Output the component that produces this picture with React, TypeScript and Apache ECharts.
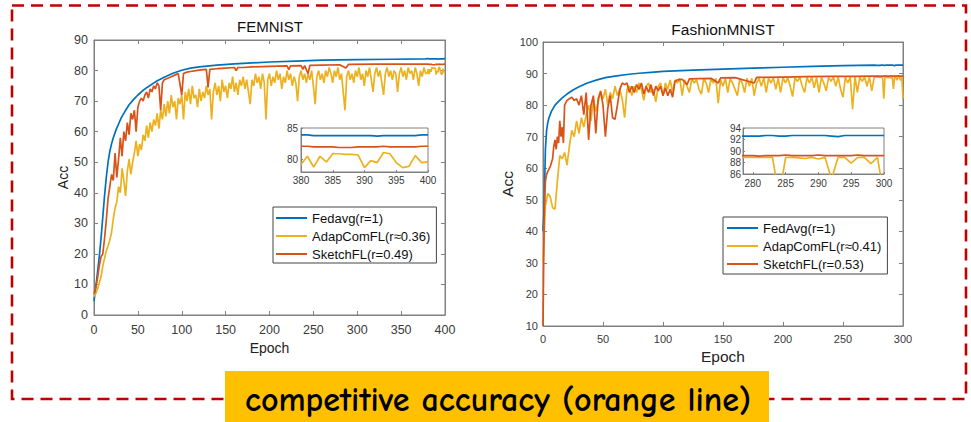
import React, { useEffect, useRef } from "react";
import * as echarts from "echarts";

// ---------------- FEMNIST (left) ----------------
const FEM_LABELS = { title: "FEMNIST", avg: "Fedavg(r=1)", adap: "AdapComFL(r≈0.36)", sketch: "SketchFL(r=0.49)" };

const femAvgEpochs = [0, 2, 4, 6, 8, 10, 12, 14, 16, 18, 20, 22, 25, 28, 31, 35, 40, 45, 50, 55, 60, 70, 80, 90, 100, 110, 120, 140, 160, 180, 200, 230, 260, 300, 340, 378];
const femAvgValues = [4.5, 9, 14, 19, 25, 32, 39, 45, 50, 53.5, 56, 58, 60.5, 62.5, 64.5, 66.5, 68.8, 70.5, 72, 73.3, 74.4, 76.3, 77.8, 79.1, 80.1, 80.8, 81.2, 81.8, 82.2, 82.5, 82.8, 83.1, 83.4, 83.6, 83.7, 83.8];

// AdapComFL, sampled every 2 epochs from 0 to 378
const femAdapValues = [
  6, 7, 8.5, 10.5, 12.5, 16, 18.5, 21, 22.5, 24.5,
  27, 31.5, 35, 37, 42, 40, 48, 44, 39, 47,
  51, 46, 50, 53, 57, 52, 56, 54, 59, 57,
  62, 58, 63, 60, 64, 62, 66, 61, 67, 64,
  69, 65, 70, 66, 72, 68, 70, 64, 71, 69,
  72, 64, 73, 70, 74, 69, 75, 71, 72, 68,
  74, 70, 73, 71, 75, 72, 74, 64, 73, 76,
  72, 75, 70, 77, 73, 75, 71, 76, 74, 78,
  73, 76, 72, 77, 75, 78, 74, 77, 73, 69,
  77, 75, 79, 76, 78, 74, 79, 76, 64, 77,
  79, 75, 78, 76, 80, 77, 79, 74, 78, 76,
  80, 77, 79, 75, 78, 76, 70, 78, 80, 77,
  79, 76, 79, 77, 80, 75, 69, 78, 80, 77,
  79, 76, 80, 78, 81, 79, 76, 80, 78, 81,
  77, 79, 73, 67, 78, 80, 77, 79, 76, 80,
  78, 81, 77, 79, 75, 80, 78, 81, 77, 73,
  79, 81, 78, 80, 76, 72, 79, 81, 78, 80,
  77, 80, 79, 73, 79, 81, 78, 80, 77, 81,
  79, 80, 77, 81, 79, 75, 80, 78, 81, 79,
];
const FEM_ADAP_STEP = 2;

const femSketchEpochs = [
  0, 2, 4, 6, 8, 10, 12, 14, 16, 18, 20, 22, 24, 26, 28, 30, 32, 34, 36, 38, 40,
  42, 44, 46, 48, 50, 52, 54, 56, 58, 60, 62, 64, 66, 68, 70, 72, 74, 76, 78, 80,
  84, 88, 92, 96, 100, 102, 106, 110, 116, 122, 128, 130, 132, 140, 150, 160, 162, 164, 170,
  180, 200, 220, 222, 224, 236, 238, 240, 244, 246, 260, 280, 287, 290, 320, 350, 378,
];
const femSketchValues = [
  7, 9, 12, 16, 19, 20, 25, 31, 38, 42, 46, 44, 53, 45, 51, 58, 52, 60, 57, 63, 59,
  66, 64, 67, 60, 68, 70, 71, 70, 72, 73, 71, 74, 73, 75, 74, 76, 75, 67, 76, 77,
  77.5, 78, 78.5, 79, 72, 79, 79.5, 79.7, 80, 80.2, 80.4, 74.5, 80.4, 80.6, 80.8, 81, 80, 81, 81,
  81.2, 81.4, 81.5, 80.3, 81.5, 81.6, 80.4, 81.6, 79, 81.7, 81.8, 81.9, 80.8, 82, 82.1, 82.1, 82.1,
];

// zoomed window 380..400 (every epoch)
const femInsetEpochs = [380, 381, 382, 383, 384, 385, 386, 387, 388, 389, 390, 391, 392, 393, 394, 395, 396, 397, 398, 399, 400];
const femInsetAvg = [83.9, 83.9, 83.8, 83.8, 83.8, 83.8, 83.8, 83.8, 83.8, 83.8, 83.8, 83.8, 83.7, 83.8, 83.8, 83.8, 83.8, 83.8, 83.8, 83.9, 83.9];
const femInsetAdap = [79.2, 80.5, 78.8, 80.5, 79.6, 80.9, 80.9, 80.8, 80.8, 80.7, 78.7, 79.8, 79.5, 81.1, 80.9, 79.5, 78.7, 78.9, 80.6, 79.5, 79.6];
const femInsetSketch = [82.1, 82.1, 82.0, 82.0, 82.0, 82.0, 81.9, 81.9, 81.9, 82.0, 82.0, 82.0, 82.0, 82.1, 82.0, 82.0, 82.0, 82.0, 82.0, 82.1, 82.1];

// ---------------- FashionMNIST (right) ----------------
const FAS_LABELS = { title: "FashionMNIST", avg: "FedAvg(r=1)", adap: "AdapComFL(r≈0.41)", sketch: "SketchFL(r=0.53)" };

const fasAvgEpochs = [0, 1, 2, 3, 4, 5, 7, 10, 13, 16, 20, 25, 30, 37, 45, 52, 60, 70, 80, 90, 100, 125, 150, 175, 200, 225, 250, 276];
const fasAvgValues = [40, 48, 66, 72, 74.5, 76, 78, 80, 81.2, 82.3, 83.5, 84.8, 85.8, 87, 88, 88.7, 89.2, 89.7, 90.1, 90.4, 90.7, 91.1, 91.4, 91.7, 92, 92.3, 92.5, 92.7];

// AdapComFL, sampled every 2 epochs from 0 to 276
const fasAdapValues = [
  30, 48, 52, 51, 47.5, 47, 56, 64, 63, 65,
  61, 67, 72, 70, 75, 71, 76, 73, 77, 80,
  75, 82, 78, 81, 84, 82, 85, 80, 84, 82,
  86, 83, 85, 82, 76, 85, 86, 83, 86, 84,
  87, 85, 81.5, 86, 87, 84, 85, 81, 86, 87,
  83, 87, 85, 88, 84, 88, 87, 88.5, 83, 88,
  86, 84, 88.5, 87, 88, 85, 83.5, 88.5, 87, 84,
  88.5, 87, 88.5, 80.6, 88, 86, 88.5, 84, 88.5, 87,
  85, 83, 88.5, 87, 84, 88.5, 86, 88.5, 83, 87,
  88.5, 86, 88.7, 84, 88.5, 87, 88.7, 85, 88.5, 84,
  88.7, 87, 88.7, 86, 82.7, 88.7, 87.5, 88.8, 86, 84,
  88.8, 87, 88.8, 85.5, 88.8, 84, 88.8, 87, 84.5, 88.8,
  87.5, 88.9, 86, 88.9, 85, 82.5, 88.9, 87, 88.9, 78.7,
  88.9, 84, 88.9, 87.5, 88.9, 86, 88.9, 84.5, 88.9,
];
const FAS_ADAP_STEP = 2;

const fasSketchEpochs = [
  0, 1, 2, 3, 4, 6, 8, 9, 10, 11, 12, 13, 14, 15, 16, 17, 18,
  20, 22, 24, 26, 28, 30, 32, 34, 36, 38, 40, 42, 44, 46, 48, 50, 52, 54, 56, 58,
  60, 62, 64, 66, 68, 70, 72, 74, 76, 78, 80, 82, 84, 86, 88, 90, 92, 94, 96, 98,
  100, 102, 104, 106, 108, 110,
  112, 116, 120, 122, 130, 140, 146, 148, 160, 176, 178, 200, 220, 240, 260, 276,
];
const fasSketchValues = [
  10, 45, 56, 58, 59, 60.5, 63, 67, 69, 66, 70, 68, 75, 70, 73, 68, 80,
  81.5, 82, 82.5, 81.5, 82, 80, 83, 77, 84, 69, 80, 83, 71, 82, 84.5, 80, 70, 79, 83, 76,
  75.5, 80, 85, 87, 86.5, 87, 84, 86, 84, 86.5, 85, 87, 83.5, 86, 84, 86.5, 83, 86, 84.5, 86,
  83, 85.5, 83, 85, 82.5, 87.5,
  88, 88.2, 86.5, 88.3, 88.4, 88.5, 87, 88.6, 88.7, 87, 88.8, 88.9, 89, 89.1, 89.1, 89.2,
];

// zoomed window 278..300 (every epoch)
const fasInsetEpochs = [278, 279, 280, 281, 282, 283, 284, 285, 286, 287, 288, 289, 290, 291, 292, 293, 294, 295, 296, 297, 298, 299, 300];
const fasInsetAvg = [92.6, 92.6, 92.6, 92.6, 92.7, 92.7, 92.6, 92.6, 92.7, 92.7, 92.7, 92.7, 92.7, 92.7, 92.6, 92.5, 92.7, 92.7, 92.7, 92.7, 92.7, 92.7, 92.7];
const fasInsetAdap = [88.9, 88.9, 88.9, 88.9, 88.9, 88.9, 82, 88.9, 88.9, 88.8, 88.7, 88.9, 88.6, 88.9, 85.1, 88.9, 88.9, 87.9, 88.9, 88.9, 87.8, 88.9, 82.2];
const fasInsetSketch = [89.2, 89.2, 89.2, 89.1, 89.2, 89.2, 89.2, 89.3, 89.2, 89.2, 89.2, 89.2, 89.3, 89.2, 89.2, 89.2, 89.2, 89.2, 89.3, 89.2, 89.2, 89.2, 89.2];

const fasInsetTicks = [280, 285, 290, 295, 300];
const femInsetYTicks = [80, 85];
const BANNER_TEXT = "competitive accuracy (orange line)";

// ---------------- styling ----------------
const BLUE = "#0072BD";
const YELLOW = "#EDB120";
const RED = "#D95319";
const AXIS = "#808080";
const LABEL = "#3a3a3a";
const FONT = "'Liberation Sans', Arial, Helvetica, sans-serif";

const pairs = (xs: number[], ys: number[]) => ys.map((y, i) => [xs[i], y]);
const stepEpochs = (n: number, step: number) => Array.from({ length: n }, (_, i) => i * step);

function line(name: string, color: string, data: number[][], xi: number, yi: number, width = 1.7) {
  return {
    type: "line",
    name,
    data,
    xAxisIndex: xi,
    yAxisIndex: yi,
    showSymbol: false,
    symbol: "none",
    clip: true,
    silent: true,
    lineStyle: { color, width },
    itemStyle: { color },
    emphasis: { disabled: true },
  };
}

export default function App() {
  const ref = useRef<HTMLDivElement>(null);

  useEffect(() => {
    const chart = echarts.init(ref.current!, null, { renderer: "svg" });

    const femAdapEpochs = stepEpochs(femAdapValues.length, FEM_ADAP_STEP);
    const fasAdapEpochs = stepEpochs(fasAdapValues.length, FAS_ADAP_STEP);

    const femAvgMain = pairs(femAvgEpochs.concat(femInsetEpochs), femAvgValues.concat(femInsetAvg));
    const femAdapMain = pairs(femAdapEpochs.concat(femInsetEpochs), femAdapValues.concat(femInsetAdap));
    const femSketchMain = pairs(femSketchEpochs.concat(femInsetEpochs), femSketchValues.concat(femInsetSketch));

    const fasAvgMain = pairs(fasAvgEpochs.concat(fasInsetEpochs), fasAvgValues.concat(fasInsetAvg));
    const fasAdapMain = pairs(fasAdapEpochs.concat(fasInsetEpochs), fasAdapValues.concat(fasInsetAdap));
    const fasSketchMain = pairs(fasSketchEpochs.concat(fasInsetEpochs), fasSketchValues.concat(fasInsetSketch));

    const tick = (len: number) => ({ show: true, inside: true, length: len, lineStyle: { color: AXIS, width: 1 } });
    const axLine = { show: true, onZero: false, lineStyle: { color: AXIS, width: 1 } };

    const xMain = (grid: number, max: number, fs: number, margin: number, nameGap: number, nameFs: number) => [
      {
        type: "value", gridIndex: grid, min: 0, max, interval: 50, position: "bottom",
        axisLine: axLine, axisTick: tick(4), splitLine: { show: false },
        axisLabel: { fontSize: fs, color: LABEL, margin, fontFamily: FONT },
        name: "Epoch", nameLocation: "middle", nameGap,
        nameTextStyle: { fontSize: nameFs, color: "#222", fontFamily: FONT },
      },
      {
        type: "value", gridIndex: grid, min: 0, max, interval: 50, position: "top",
        axisLine: axLine, axisTick: tick(4), splitLine: { show: false }, axisLabel: { show: false },
      },
    ];
    const yMain = (grid: number, min: number, max: number, fs: number, margin: number, nameGap: number, nameFs: number) => [
      {
        type: "value", gridIndex: grid, min, max, interval: 10, position: "left",
        axisLine: axLine, axisTick: tick(4), splitLine: { show: false },
        axisLabel: { fontSize: fs, color: LABEL, margin, fontFamily: FONT },
        name: "Acc", nameLocation: "middle", nameGap,
        nameTextStyle: { fontSize: nameFs, color: "#222", fontFamily: FONT },
      },
      {
        type: "value", gridIndex: grid, min, max, interval: 10, position: "right",
        axisLine: axLine, axisTick: tick(4), splitLine: { show: false }, axisLabel: { show: false },
      },
    ];

    const xAxis = [
      ...xMain(0, 400, 12.5, 8, 24, 14),
      {
        type: "value", gridIndex: 1, min: 380, max: 400, interval: 5,
        axisLine: axLine, axisTick: tick(2), splitLine: { show: false },
        axisLabel: { fontSize: 10, color: LABEL, margin: 3, fontFamily: FONT },
      },
      ...xMain(2, 300, 11, 7, 22, 15.5),
      {
        type: "value", gridIndex: 3, min: 278.5, max: 300,
        axisLine: axLine,
        axisTick: { ...tick(2), customValues: fasInsetTicks },
        splitLine: { show: false },
        axisLabel: { fontSize: 10, color: LABEL, margin: 4, fontFamily: FONT, customValues: fasInsetTicks },
      },
    ];
    const yAxis = [
      ...yMain(0, 0, 90, 12.5, 6, 22, 14),
      {
        type: "value", gridIndex: 1, min: 78, max: 85,
        axisLine: axLine,
        axisTick: { ...tick(2), customValues: femInsetYTicks },
        splitLine: { show: false },
        axisLabel: { fontSize: 10, color: LABEL, margin: 3, fontFamily: FONT, customValues: femInsetYTicks },
      },
      ...yMain(2, 10, 100, 11, 5, 27, 15.5),
      {
        type: "value", gridIndex: 3, min: 86, max: 94, interval: 2,
        axisLine: axLine, axisTick: tick(2), splitLine: { show: false },
        axisLabel: { fontSize: 10, color: LABEL, margin: 2, fontFamily: FONT },
      },
    ];

    const gridBox = { show: true, borderColor: AXIS, borderWidth: 1, backgroundColor: "#fff", containLabel: false };

    const legendBase = {
      orient: "vertical",
      icon: "rect",
      itemWidth: 31,
      itemHeight: 2,
      itemGap: 0,
      borderColor: "#444",
      borderWidth: 1,
      backgroundColor: "#fff",
      selectedMode: false,
      textStyle: { fontSize: 13, lineHeight: 18, color: "#111", fontFamily: FONT },
    };

    const option = {
      animation: false,
      backgroundColor: "#fff",
      textStyle: { fontFamily: FONT },
      grid: [
        { ...gridBox, left: 94, top: 40, width: 351, height: 275 },
        { ...gridBox, left: 301, top: 128, width: 127, height: 44 },
        { ...gridBox, left: 543, top: 42, width: 360, height: 284 },
        { ...gridBox, left: 743, top: 128, width: 141, height: 46 },
      ],
      xAxis,
      yAxis,
      legend: [
        { ...legendBase, left: 273, top: 207, padding: [2, 6, 0, 3], data: [FEM_LABELS.avg, FEM_LABELS.adap, FEM_LABELS.sketch] },
        { ...legendBase, left: 723, top: 217, padding: [2, 6, 1, 4], data: [FAS_LABELS.avg, FAS_LABELS.adap, FAS_LABELS.sketch] },
      ],
      series: [
        line(FEM_LABELS.avg, BLUE, femAvgMain, 0, 0),
        line(FEM_LABELS.adap, YELLOW, femAdapMain, 0, 0),
        line(FEM_LABELS.sketch, RED, femSketchMain, 0, 0),
        line(FEM_LABELS.avg, BLUE, pairs(femInsetEpochs, femInsetAvg), 2, 2),
        line(FEM_LABELS.adap, YELLOW, pairs(femInsetEpochs, femInsetAdap), 2, 2),
        line(FEM_LABELS.sketch, RED, pairs(femInsetEpochs, femInsetSketch), 2, 2),
        line(FAS_LABELS.avg, BLUE, fasAvgMain, 3, 3),
        line(FAS_LABELS.adap, YELLOW, fasAdapMain, 3, 3),
        line(FAS_LABELS.sketch, RED, fasSketchMain, 3, 3),
        line(FAS_LABELS.avg, BLUE, pairs(fasInsetEpochs, fasInsetAvg), 5, 5),
        line(FAS_LABELS.adap, YELLOW, pairs(fasInsetEpochs, fasInsetAdap), 5, 5),
        line(FAS_LABELS.sketch, RED, pairs(fasInsetEpochs, fasInsetSketch), 5, 5),
      ],
      graphic: [
        {
          type: "text", x: 270, y: 26, z: 10,
          style: { text: FEM_LABELS.title, fontSize: 15, fontFamily: FONT, fill: "#111", align: "center", verticalAlign: "middle" },
        },
        {
          type: "text", x: 723, y: 29, z: 10,
          style: { text: FAS_LABELS.title, fontSize: 15.5, fontFamily: FONT, fill: "#111", align: "center", verticalAlign: "middle" },
        },
        {
          type: "rect", z: 50, silent: true,
          shape: { x: 12, y: 5.5, width: 954, height: 393.5 },
          style: { fill: "none", stroke: "#C00000", lineWidth: 2.6, lineDash: [12, 7] },
        },
        {
          type: "rect", z: 60, silent: true,
          shape: { x: 225, y: 371, width: 544, height: 60 },
          style: { fill: "#FFC000" },
        },
        {
          type: "text", x: 498, y: 400, z: 61, silent: true,
          style: {
            text: BANNER_TEXT, fontSize: 34, fontWeight: "bold",
            fontFamily: "'Comic Sans MS', 'Comic Neue', 'Noto Sans', 'DejaVu Sans', sans-serif",
            fill: "#000", align: "center", verticalAlign: "middle",
          },
        },
      ],
    };

    chart.setOption(option as any);
    return () => chart.dispose();
  }, []);

  return (
    <div
      ref={ref}
      style={{ position: "fixed", left: 0, top: 0, width: 971, height: 422, background: "#fff" }}
    />
  );
}
